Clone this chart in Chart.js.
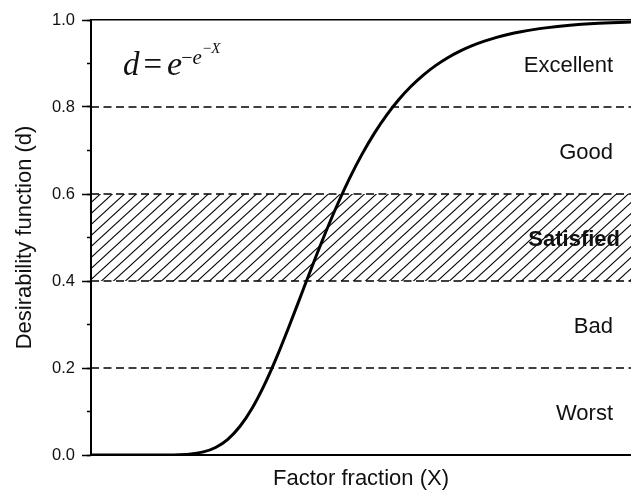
<!DOCTYPE html>
<html>
<head>
<meta charset="utf-8">
<script src="https://cdn.jsdelivr.net/npm/chart.js@4/dist/chart.umd.min.js"></script>
<style>
  html, body { margin: 0; padding: 0; background: #fff; }
  #wrap { width: 631px; height: 492px; }
</style>
</head>
<body>
<div id="wrap"><canvas id="chart" width="631" height="492"></canvas></div>
<script>
// Gompertz-type desirability curve, sampled along the factor axis
const factorX = [-3.44, -3.0, -2.6, -2.2, -2.0, -1.8, -1.6, -1.4, -1.2, -1.0, -0.8, -0.6, -0.4, -0.2,
  0.0, 0.2, 0.4, 0.6, 0.8, 1.0, 1.2, 1.4, 1.6, 1.8, 2.0, 2.2, 2.4, 2.6, 2.8, 3.0, 3.2, 3.4, 3.6,
  3.8, 4.0, 4.4, 4.8, 5.4];
const desirability = [0.0, 0.0, 0.0, 0.0001, 0.0006, 0.0024, 0.0071, 0.0173, 0.0361, 0.066, 0.108,
  0.1617, 0.225, 0.2948, 0.3679, 0.441, 0.5115, 0.5776, 0.6381, 0.6922, 0.74, 0.7814, 0.8172,
  0.8476, 0.8734, 0.8951, 0.9133, 0.9284, 0.941, 0.9514, 0.96, 0.9672, 0.973, 0.9779, 0.9819,
  0.9878, 0.9918, 0.9955];

// grade boundaries (dashed) and the grade names between them
const gradeBounds = [0.2, 0.4, 0.6, 0.8];
const gradeNames = ['Worst', 'Bad', 'Satisfied', 'Good', 'Excellent'];
const gradeLevels = [0.0, 0.2, 0.4, 0.6, 0.8, 1.0];
const satisfiedBand = [0.4, 0.6];

// axis ranges and tick labels
const xRange = [-3.44, 5.4];
const yRange = [0, 1];
const yMajorTicks = ['0.0', '0.2', '0.4', '0.6', '0.8', '1.0'];

const INK = '#111';

// diagonal hatch for the satisfied band
function makeHatch() {
  const w = 12, h = 11;
  const c = document.createElement('canvas');
  c.width = w; c.height = h;
  const g = c.getContext('2d');
  g.strokeStyle = '#000';
  g.lineWidth = 1.05;
  for (let k = -1; k <= 1; k++) {
    g.beginPath();
    g.moveTo(-w + k * w, 2 * h);
    g.lineTo(2 * w + k * w, -h);
    g.stroke();
  }
  return g.createPattern(c, 'repeat');
}

const curve = factorX.map((x, i) => ({ x, y: desirability[i] }));
const levelLine = v => [{ x: xRange[0], y: v }, { x: xRange[1], y: v }];

const datasets = [
  {
    label: 'd',
    data: curve,
    borderColor: '#000',
    borderWidth: 3,
    pointRadius: 0,
    cubicInterpolationMode: 'monotone',
    fill: false,
    order: 0
  },
  {
    label: 'band',
    data: levelLine(satisfiedBand[1]),
    borderWidth: 0,
    borderColor: 'rgba(0,0,0,0)',
    pointRadius: 0,
    backgroundColor: makeHatch(),
    fill: { value: satisfiedBand[0] },
    order: 5
  }
];
gradeBounds.forEach((v, i) => {
  datasets.push({
    label: 'bound' + i,
    data: levelLine(v),
    borderColor: '#000',
    borderWidth: 1.3,
    borderDash: [8, 4.5],
    pointRadius: 0,
    fill: false,
    order: 2
  });
});

// grade names and the formula written inside the plot
const annotations = {
  id: 'annotations',
  afterDatasetsDraw(chart) {
    const { ctx, chartArea, scales } = chart;
    const ys = scales.y;
    ctx.save();
    ctx.fillStyle = INK;
    ctx.textBaseline = 'middle';
    ctx.textAlign = 'right';
    gradeNames.forEach((name, i) => {
      const mid = (gradeLevels[i] + gradeLevels[i + 1]) / 2;
      const y = ys.getPixelForValue(mid) + 2.5;
      const bold = name === 'Satisfied';
      ctx.font = (bold ? 'bold ' : '') + '22px "Liberation Sans", Arial, sans-serif';
      ctx.fillText(name, bold ? 620 : 613, y);
    });

    // d = e^(-e^(-X))
    ctx.textAlign = 'left';
    ctx.textBaseline = 'alphabetic';
    const base = chartArea.top + 55;
    let x = chartArea.left + 32;
    const put = (txt, font, dy) => {
      ctx.font = font;
      ctx.fillText(txt, x, base + dy);
      x += ctx.measureText(txt).width;
    };
    const serif = '"Liberation Serif", "Times New Roman", serif';
    put('d', 'italic 33px ' + serif, 0);
    x += 4;
    put('=', '33px ' + serif, 0);
    x += 5;
    put('e', 'italic 34px ' + serif, 0);
    x -= 1;
    put('\u2212', '20px ' + serif, -11);
    put('e', 'italic 21px ' + serif, -11);
    x += 1;
    put('\u2212', '15px ' + serif, -22);
    put('X', 'italic 15px ' + serif, -22);
    ctx.restore();
  }
};

new Chart(document.getElementById('chart'), {
  type: 'line',
  data: { datasets },
  plugins: [annotations],
  options: {
    responsive: false,
    devicePixelRatio: 1,
    animation: false,
    layout: { padding: 0 },
    plugins: { legend: { display: false }, tooltip: { enabled: false } },
    scales: {
      x: {
        type: 'linear',
        position: 'bottom',
        min: xRange[0],
        max: xRange[1],
        ticks: { display: false },
        grid: { display: false, drawTicks: false },
        border: { display: true, color: '#000', width: 2 },
        title: {
          display: true,
          text: 'Factor fraction (X)',
          color: INK,
          font: { family: '"Liberation Sans", Arial, sans-serif', size: 22 },
          padding: { top: 0, bottom: 0 }
        },
        afterFit(s) { s.height = 37; }
      },
      xTop: {
        type: 'linear',
        position: 'top',
        display: true,
        min: xRange[0],
        max: xRange[1],
        ticks: { display: false },
        grid: { display: false, drawTicks: false },
        border: { display: true, color: '#000', width: 1.6 },
        afterFit(s) { s.height = 20; }
      },
      y: {
        type: 'linear',
        position: 'left',
        weight: 2,
        min: yRange[0],
        max: yRange[1],
        afterBuildTicks(s) {
          s.ticks = yMajorTicks.map(t => ({ value: parseFloat(t) }));
        },
        ticks: {
          color: INK,
          padding: 7,
          font: { family: '"Liberation Sans", Arial, sans-serif', size: 16.5 },
          callback: (v, i) => yMajorTicks[i]
        },
        grid: { drawOnChartArea: false, tickLength: 9, tickWidth: 1.5, tickColor: '#000' },
        border: { display: true, color: '#000', width: 2 },
        title: {
          display: true,
          text: 'Desirability function (d)',
          color: INK,
          font: { family: '"Liberation Sans", Arial, sans-serif', size: 22 },
          padding: { top: 12, bottom: 0 }
        },
        afterFit(s) { s.width = 91; }
      },
      yMinor: {
        type: 'linear',
        position: 'left',
        weight: 1,
        display: true,
        min: yRange[0],
        max: yRange[1],
        ticks: { display: false, stepSize: 0.1 },
        grid: { drawOnChartArea: false, tickLength: 4, tickWidth: 1.5, tickColor: '#000' },
        border: { display: false },
        afterFit(s) { s.width = 0; }
      }
    }
  }
});
</script>
</body>
</html>
